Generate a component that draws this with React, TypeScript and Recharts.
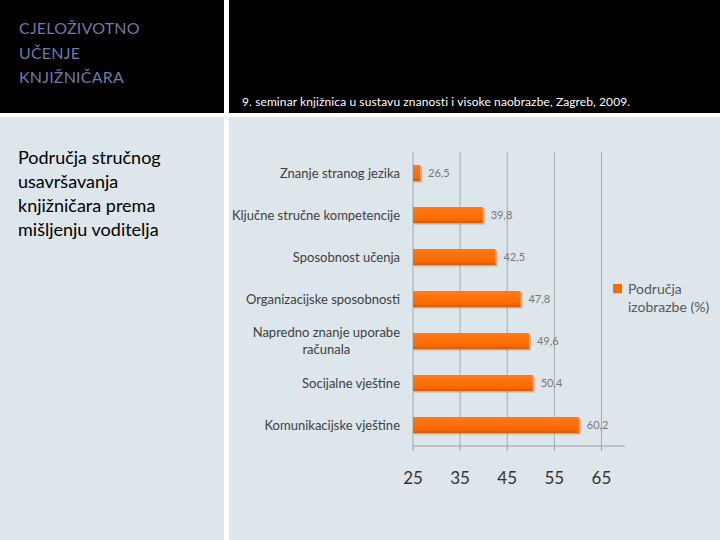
import React from 'react';
import {
  BarChart, Bar, XAxis, YAxis, CartesianGrid, LabelList,
} from 'recharts';

const categories = [
  'Znanje stranog jezika',
  'Ključne stručne kompetencije',
  'Sposobnost učenja',
  'Organizacijske sposobnosti',
  'Napredno znanje uporabe računala',
  'Socijalne vještine',
  'Komunikacijske vještine',
];
const values = [26.5, 39.8, 42.5, 47.8, 49.6, 50.4, 60.2];
const xTicks = [25, 35, 45, 55, 65];
const seriesName = 'Područja izobrazbe (%)';
const headerText = '9. seminar knjižnica u sustavu znanosti i visoke naobrazbe, Zagreb, 2009.';
const titleLines = ['CJELOŽIVOTNO', 'UČENJE', 'KNJIŽNIČARA'];
const subtitleLines = ['Područja stručnog', 'usavršavanja', 'knjižničara prema', 'mišljenju voditelja'];
const legendLines = ['Područja', 'izobrazbe (%)'];
const boundaryTicks = [0, 1, 2, 3, 4, 5, 6, 7];

const data = categories.map((c, i) => ({ name: c, value: values[i] }));

const FONT = 'Lato, "Open Sans", sans-serif';
const ORANGE = '#ff6a00';

let canvasCtx: CanvasRenderingContext2D | null = null;
function measure(text: string, size: number) {
  if (!canvasCtx) {
    const c = document.createElement('canvas');
    canvasCtx = c.getContext('2d');
  }
  if (!canvasCtx) return text.length * size * 0.5;
  canvasCtx.font = `${size}px Lato`;
  return canvasCtx.measureText(text).width;
}

const CategoryTick = (props: any) => {
  const { x, y, payload } = props;
  const label: string = payload.value;
  const size = 13;
  if (label.length > 30) {
    const idx = label.lastIndexOf(' ');
    const l1 = label.slice(0, idx);
    const l2 = label.slice(idx + 1);
    const w1 = measure(l1, size);
    return (
      <g>
        <text x={x} y={y - 8.5} dy="0.35em" textAnchor="end" fontSize={size} fill="#404040" fontFamily={FONT}>{l1}</text>
        <text x={x - w1 / 2} y={y + 8.5} dy="0.35em" textAnchor="middle" fontSize={size} fill="#404040" fontFamily={FONT}>{l2}</text>
      </g>
    );
  }
  return (
    <text x={x} y={y} dy="0.35em" textAnchor="end" fontSize={size} fill="#404040" fontFamily={FONT}>{label}</text>
  );
};

const ShadowBar = (props: any) => {
  const { x, y, width, height } = props;
  if (width <= 0) return null;
  return (
    <g>
      <rect x={x + 1} y={y + 1.5} width={width + 1} height={height} fill="#8a4a20" opacity={0.35} />
      <rect x={x} y={y} width={width} height={height} fill="url(#barGrad)" />
    </g>
  );
};

export default function App() {
  return (
    <div style={{ position: 'fixed', left: 0, top: 0, width: 720, height: 540, background: '#ffffff', overflow: 'hidden' }}>
      <div style={{ position: 'absolute', left: 0, top: 0, width: 224, height: 113, background: '#000' }} />
      <div style={{ position: 'absolute', left: 229, top: 0, width: 491, height: 113, background: '#000' }} />
      <div style={{ position: 'absolute', left: 0, top: 117, width: 224, height: 423, background: '#dde6ea' }} />
      <div style={{ position: 'absolute', left: 229, top: 117, width: 491, height: 423, background: '#dde6ea' }} />

      <div style={{ position: 'absolute', left: 19, top: 16, fontFamily: FONT, fontSize: 16, lineHeight: '24.5px', color: '#7078a8', letterSpacing: 0.2 }}>
        {titleLines.map((l) => <div key={l}>{l}</div>)}
      </div>
      <div style={{ position: 'absolute', left: 18, top: 145, fontFamily: FONT, fontSize: 18, lineHeight: '24px', color: '#000' }}>
        {subtitleLines.map((l) => <div key={l} style={{ whiteSpace: 'nowrap' }}>{l}</div>)}
      </div>
      <div style={{ position: 'absolute', left: 242, top: 94, fontFamily: FONT, fontSize: 12, letterSpacing: 0.1, color: '#fff', whiteSpace: 'nowrap' }}>
        {headerText}
      </div>

      <div style={{ position: 'absolute', left: 230, top: 117 }}>
        <BarChart
          width={490}
          height={423}
          data={data}
          layout="vertical"
          margin={{ top: 35, right: 95, bottom: 54, left: 0 }}
          barSize={16}
        >
          <defs>
            <linearGradient id="barGrad" x1="0" y1="0" x2="0" y2="1">
              <stop offset="0" stopColor="#ff7a18" />
              <stop offset="0.75" stopColor="#ff6a00" />
              <stop offset="1" stopColor="#d95a00" />
            </linearGradient>
          </defs>
          <CartesianGrid horizontal={false} syncWithTicks stroke="#a3abb0" strokeWidth={1} />
          <XAxis
            type="number"
            domain={[25, 70]}
            ticks={xTicks}
            interval={0}
            height={40}
            tickSize={5}
            tickMargin={21}
            axisLine={{ stroke: '#9aa0a4' }}
            tickLine={{ stroke: '#9aa0a4' }}
            tick={{ fontSize: 17, fill: '#333', fontFamily: FONT }}
          />
          <YAxis
            yAxisId="bounds"
            type="number"
            domain={[0, 7]}
            ticks={boundaryTicks}
            interval={0}
            width={0}
            tickSize={5}
            tick={false}
            axisLine={{ stroke: '#9aa0a4' }}
            tickLine={{ stroke: '#9aa0a4' }}
          />
          <YAxis
            yAxisId="cat"
            type="category"
            dataKey="name"
            width={183}
            axisLine={false}
            tickLine={false}
            tickSize={0}
            tickMargin={13}
            tick={<CategoryTick />}
            interval={0}
          />
          <Bar
            yAxisId="cat"
            dataKey="value"
            name={seriesName}
            fill={ORANGE}
            shape={<ShadowBar />}
            isAnimationActive={false}
          >
            <LabelList
              dataKey="value"
              position="right"
              offset={8}
              formatter={(v: any) => String(v).replace('.', ',')}
              style={{ fontSize: 11, fill: '#777', fontFamily: FONT }}
            />
          </Bar>
        </BarChart>
      </div>

      <div style={{ position: 'absolute', left: 613, top: 280, fontFamily: FONT, fontSize: 14, color: '#595959', lineHeight: '18px' }}>
        <div style={{ position: 'absolute', left: 0, top: 4, width: 9, height: 9, background: ORANGE }} />
        <div style={{ paddingLeft: 15 }}>
          {legendLines.map((l) => <div key={l} style={{ whiteSpace: 'nowrap' }}>{l}</div>)}
        </div>
      </div>
    </div>
  );
}
